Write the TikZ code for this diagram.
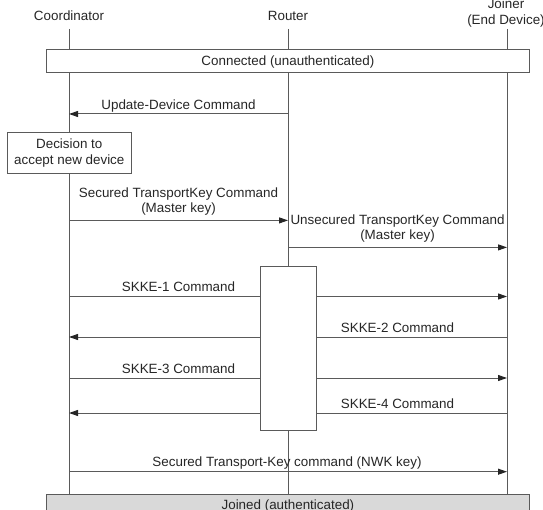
\documentclass[tikz,border=0pt]{standalone}
\usepackage{fontspec}
\setmainfont{Liberation Sans}
\usetikzlibrary{arrows.meta}
\definecolor{linec}{HTML}{5A5A5A}
\definecolor{joinfill}{HTML}{D9D9D9}
\tikzset{
  every node/.style={font=\fontsize{13.4}{16.3}\selectfont, inner sep=0pt, text=black!85},
  lbl/.style={anchor=base},
  life/.style={draw=linec, line width=1pt},
  msg/.style={draw=linec, line width=1pt, -{Triangle[length=9pt,width=6pt,fill=black!85,color=black!85]}},
  seg/.style={draw=linec, line width=1pt},
  statebox/.style={draw=linec, line width=1pt, fill=white, minimum width=482.3pt, minimum height=23.5pt},
  actbox/.style={draw=linec, line width=1pt, fill=white, minimum width=55.6pt, minimum height=163.5pt},
  decbox/.style={draw=linec, line width=1pt, fill=white, minimum width=123.4pt, minimum height=41.2pt, align=center},
}
\begin{document}
\begin{tikzpicture}[x=1pt,y=-1pt]
\useasboundingbox (0,0) rectangle (543,510);
% headers
\node[lbl] (hc) at (69,20.2) {Coordinator};
\node[lbl] (hr) at (288,20.2) {Router};
\node[lbl] (hj1) at (506,9) {Joiner};
\node[lbl] (hj2) at (506,24.2) {(End Device)};
% lifeline ends
\coordinate (ct) at (69,29);
\coordinate (rt) at (288,29);
\coordinate (jt) at (507,29);
\coordinate (cb) at (69,494.5);
\coordinate (rb) at (288,494.5);
\coordinate (jb) at (507,494.5);
\draw[life] (ct) -- (cb);
\draw[life] (jt) -- (jb);
\draw[life] (rt) -- (rb);
% boxes
\node[statebox] (conn) at (287.9,61.25) {};
\node[lbl] (connt) at (287.9,65.8) {Connected (unauthenticated)};
% Update-Device
\coordinate (u1) at (288,114);
\coordinate (u2) at (69,114);
\draw[msg] (u1) -- (u2);
\node[lbl] (ul) at (178.5,109.4) {Update-Device Command};
% decision
\node[decbox] (dec) at (69.3,153.1) {Decision to\\accept new device};
% Secured TransportKey
\coordinate (s1) at (69,220.4);
\coordinate (s2) at (288,220.4);
\draw[msg] (s1) -- (s2);
\node[lbl] (sl1) at (178.5,197.4) {Secured TransportKey Command};
\node[lbl] (sl2) at (178.5,212.4) {(Master key)};
% Unsecured
\coordinate (n1) at (288,247.4);
\coordinate (n2) at (507,247.4);
\draw[msg] (n1) -- (n2);
\node[lbl] (nl1) at (397.5,224.8) {Unsecured TransportKey Command};
\node[lbl] (nl2) at (397.5,239.8) {(Master key)};
% activation box
\node[actbox] (act) at (288.2,348.75) {};
% SKKE-1
\coordinate (k1a) at (69,296.5);
\coordinate (k1b) at (507,296.5);
\draw[seg] (k1a) -- (k1a -| act.west);
\draw[msg] (k1b -| act.east) -- (k1b);
\node[lbl] (k1l) at (178.5,292) {SKKE-1 Command};
% SKKE-2
\coordinate (k2a) at (507,337);
\coordinate (k2b) at (69,337);
\draw[seg] (k2a) -- (k2a -| act.east);
\draw[msg] (k2b -| act.west) -- (k2b);
\node[lbl] (k2l) at (397.5,332.6) {SKKE-2 Command};
% SKKE-3
\coordinate (k3a) at (69,378);
\coordinate (k3b) at (507,378);
\draw[seg] (k3a) -- (k3a -| act.west);
\draw[msg] (k3b -| act.east) -- (k3b);
\node[lbl] (k3l) at (178.5,373.4) {SKKE-3 Command};
% SKKE-4
\coordinate (k4a) at (507,413);
\coordinate (k4b) at (69,413);
\draw[seg] (k4a) -- (k4a -| act.east);
\draw[msg] (k4b -| act.west) -- (k4b);
\node[lbl] (k4l) at (397.5,408.7) {SKKE-4 Command};
% NWK key
\coordinate (w1) at (69,471.7);
\coordinate (w2) at (507,471.7);
\draw[msg] (w1) -- (w2);
\node[lbl] (wl) at (287,466.8) {Secured Transport-Key command (NWK key)};
% joined
\node[statebox, fill=joinfill, minimum height=30pt] (join) at (287.9,509.5) {};
\node[lbl] (joint) at (287.9,509.6) {Joined (authenticated)};
\end{tikzpicture}
\end{document}
